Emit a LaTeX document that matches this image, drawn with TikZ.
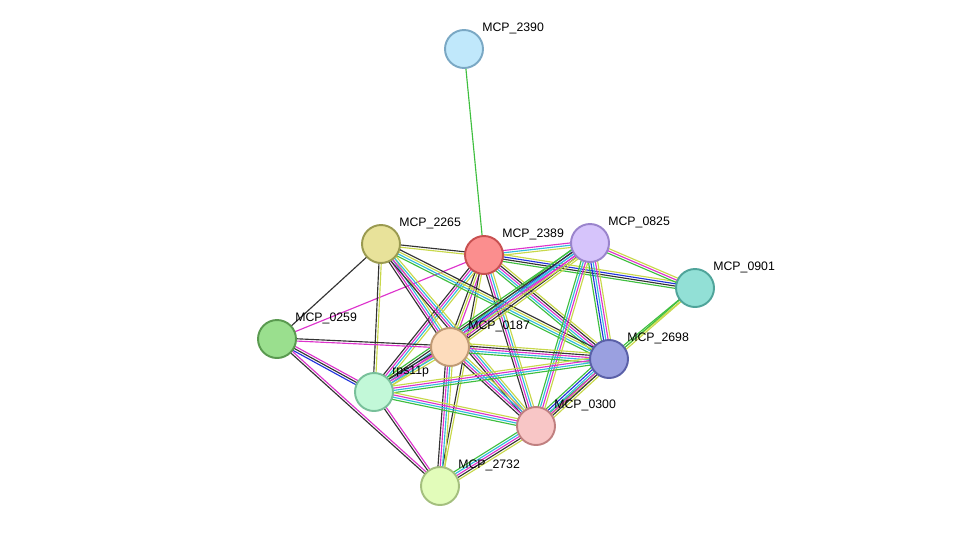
\documentclass[tikz,border=0pt]{standalone}
\usepackage{fontspec}
\setmainfont{Liberation Sans}
\usetikzlibrary{calc}
\pgfdeclarelayer{bg}
\pgfsetlayers{bg,main}
\definecolor{G}{HTML}{3FBF3F}
\definecolor{B}{HTML}{2233DD}
\definecolor{C}{HTML}{33BBDD}
\definecolor{M}{HTML}{DD33CC}
\definecolor{K}{HTML}{333333}
\definecolor{Y}{HTML}{C8D84A}
\tikzset{
  prot/.style={circle, minimum size=0.76cm, inner sep=0pt, line width=1.1pt},
  lbl/.style={anchor=south west, font=\fontsize{7}{8}\selectfont, inner sep=0.5pt, xshift=0.06cm},
  edge/.style={line width=0.65pt}
}
% parallel coloured lines between two proteins
\newcommand\edgelines[3]{%
  \foreach \c [count=\i] in {#3} {\xdef\nlines{\i}}
  \foreach \c [count=\i] in {#3} {
    \pgfmathsetmacro\off{(\i-(\nlines+1)/2)*1.3}
    \draw[edge,\c] ($(#1)!\off pt!90:(#2)$) -- ($(#2)!\off pt!-90:(#1)$);
  }}
\begin{document}
\begin{tikzpicture}[x=0.02cm, y=-0.02cm]
\useasboundingbox (0,0) rectangle (976,532);

\node[prot, fill={rgb,255:red,192;green,232;blue,251}, draw={rgb,255:red,122;green,168;blue,196}, label={[lbl]north east:MCP\_2390}] (m2390) at (464,49) {};
\node[prot, fill={rgb,255:red,251;green,142;blue,142}, draw={rgb,255:red,200;green,80;blue,80}, label={[lbl]north east:MCP\_2389}] (m2389) at (484,255) {};
\node[prot, fill={rgb,255:red,232;green,226;blue,154}, draw={rgb,255:red,154;green,154;blue,80}, label={[lbl]north east:MCP\_2265}] (m2265) at (381,244) {};
\node[prot, fill={rgb,255:red,214;green,196;blue,251}, draw={rgb,255:red,154;green,132;blue,204}, label={[lbl]north east:MCP\_0825}] (m0825) at (590,243) {};
\node[prot, fill={rgb,255:red,146;green,224;blue,214}, draw={rgb,255:red,79;green,164;blue,154}, label={[lbl]north east:MCP\_0901}] (m0901) at (695,288) {};
\node[prot, fill={rgb,255:red,154;green,223;blue,142}, draw={rgb,255:red,90;green,154;blue,80}, label={[lbl]north east:MCP\_0259}] (m0259) at (277,339) {};
\node[prot, fill={rgb,255:red,253;green,220;blue,188}, draw={rgb,255:red,192;green,154;blue,116}, label={[lbl]north east:MCP\_0187}] (m0187) at (450,347) {};
\node[prot, fill={rgb,255:red,154;green,160;blue,224}, draw={rgb,255:red,90;green,96;blue,168}, label={[lbl]north east:MCP\_2698}] (m2698) at (609,359) {};
\node[prot, fill={rgb,255:red,194;green,248;blue,216}, draw={rgb,255:red,120;green,192;blue,154}, label={[lbl]north east:rps11p}] (rps11p) at (374,392) {};
\node[prot, fill={rgb,255:red,248;green,198;blue,198}, draw={rgb,255:red,192;green,128;blue,128}, label={[lbl]north east:MCP\_0300}] (m0300) at (536,426) {};
\node[prot, fill={rgb,255:red,226;green,252;blue,186}, draw={rgb,255:red,164;green,191;blue,126}, label={[lbl]north east:MCP\_2732}] (m2732) at (440,486) {};

\begin{pgfonlayer}{bg}
\edgelines{m2390}{m2389}{G}
\edgelines{m2389}{m2265}{K,Y}
\edgelines{m2389}{m0825}{Y,C,M}
\edgelines{m2389}{m0901}{G,K,B,Y}
\edgelines{m2389}{m2698}{G,C,M,K,Y}
\edgelines{m2389}{m0300}{K,M,C,Y}
\edgelines{m2389}{m0187}{K,Y,M}
\edgelines{m2389}{rps11p}{K,M,C,Y}
\edgelines{m2389}{m2732}{K,Y}
\edgelines{m2389}{m0259}{M}
\edgelines{m2265}{m0187}{K,M,C,Y}
\edgelines{m2265}{m2698}{G,C,Y,K}
\edgelines{m2265}{m0300}{K,M,C,Y}
\edgelines{m2265}{m0259}{K}
\edgelines{m2265}{rps11p}{K,Y}
\edgelines{m0825}{m0901}{G,M,Y}
\edgelines{m0825}{m2698}{G,B,C,M,Y}
\edgelines{m0825}{m0300}{G,C,M,Y}
\edgelines{m0825}{m0187}{G,B,C,M,K,Y}
\edgelines{m0825}{rps11p}{G,K,C,M,Y}
\edgelines{m0901}{m2698}{G,Y}
\edgelines{m0901}{m0300}{G,Y}
\edgelines{m0259}{m0187}{M,K}
\edgelines{m0259}{rps11p}{B,K,M}
\edgelines{m0259}{m2732}{K,M}
\edgelines{m0187}{m2698}{G,C,M,K,Y}
\edgelines{m0187}{m0300}{K,M,C,Y}
\edgelines{m0187}{rps11p}{K,M,C,Y}
\edgelines{m0187}{m2732}{K,M,C,Y}
\edgelines{rps11p}{m2698}{G,C,M,Y}
\edgelines{rps11p}{m0300}{G,C,M,Y}
\edgelines{rps11p}{m2732}{K,M}
\edgelines{m2698}{m0300}{G,B,C,M,K,Y}
\edgelines{m0300}{m2732}{G,C,M,K,Y}
\end{pgfonlayer}
\end{tikzpicture}
\end{document}
